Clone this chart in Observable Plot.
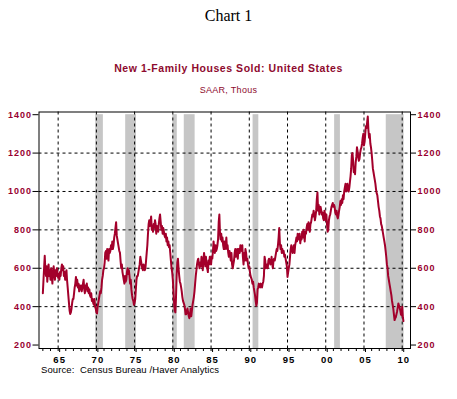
<!DOCTYPE html>
<html><head><meta charset="utf-8">
<script src="https://cdn.jsdelivr.net/npm/d3@7"></script>
<script src="https://cdn.jsdelivr.net/npm/@observablehq/plot@0.6"></script>
<style>
body{margin:0;background:#fff;}
#wrap{position:relative;width:457px;height:399px;overflow:hidden;background:#fff;}
.t{position:absolute;left:0;width:457px;text-align:center;white-space:nowrap;}
#plot{position:absolute;left:0;top:0;}
#plot svg text{letter-spacing:1px;}
</style></head><body><div id="wrap">
<div id="plot"></div>
<div class="t" style="top:7px;font-family:'Liberation Serif',serif;font-size:16px;color:#000">Chart 1</div>
<div class="t" style="top:62px;font-family:'Liberation Sans',Arial,sans-serif;font-weight:bold;font-size:10.5px;letter-spacing:0.55px;color:#8e0a2e">New 1-Family Houses Sold: United States</div>
<div class="t" style="top:85px;font-family:'Liberation Sans',Arial,sans-serif;font-size:9px;letter-spacing:0.3px;color:#8e0a2e">SAAR, Thous</div>
<div style="position:absolute;left:41px;top:364px;white-space:nowrap;font-family:'Liberation Sans',Arial,sans-serif;font-size:9.5px;letter-spacing:0.1px;color:#000">Source:&nbsp; Census Bureau /Haver Analytics</div>
</div>
<script>
const startYear = 1963;
const sales = [
  470, 540, 600, 665, 590, 560, 610, 530, 580, 620, 560, 590,
  540, 600, 560, 520, 580, 610, 570, 540, 590, 560, 600, 580,
  550, 570, 540, 580, 560, 600, 620, 590, 610, 560, 580, 540,
  570, 590, 540, 500, 460, 420, 380, 362, 370, 390, 420, 440,
  440, 470, 500, 520, 555, 510, 540, 500, 520, 480, 510, 490,
  510, 480, 500, 520, 540, 490, 470, 510, 490, 520, 480, 500,
  470, 490, 460, 450, 470, 430, 440, 420, 410, 440, 400, 390,
  370, 365, 400, 420, 440, 460, 480, 470, 500, 540, 560, 590,
  600, 630, 680, 690, 650, 700, 670, 640, 700, 680, 690, 720,
  700, 740, 700, 720, 760, 780, 810, 840, 770, 750, 730, 710,
  690, 680, 640, 600, 620, 580, 560, 540, 520, 560, 530, 540,
  580, 600, 570, 590, 560, 520, 540, 490, 460, 440, 430, 410,
  420, 440, 490, 540, 560, 560, 580, 600, 620, 660, 640, 620,
  600, 590, 620, 610, 590, 600, 640, 680, 720, 780, 830, 850,
  820, 840, 870, 800, 820, 790, 830, 810, 850, 830, 780, 820,
  800, 790, 830, 860, 880, 840, 800, 820, 780, 810, 790, 770,
  760, 780, 740, 760, 720, 740, 710, 720, 680, 640, 600, 580,
  540, 480, 420, 380, 370, 450, 560, 630, 650, 600, 560, 530,
  520, 500, 480, 450, 430, 420, 410, 390, 360, 360, 380, 390,
  370, 350, 340, 360, 390, 350, 380, 410, 430, 450, 480, 520,
  560, 590, 620, 640, 650, 620, 600, 630, 610, 660, 640, 590,
  640, 680, 650, 610, 660, 620, 600, 580, 640, 620, 660, 640,
  620, 660, 650, 690, 740, 700, 680, 720, 690, 700, 720, 750,
  840, 880, 790, 750, 780, 740, 760, 720, 700, 740, 700, 720,
  760, 700, 720, 680, 660, 690, 670, 640, 680, 620, 600, 620,
  640, 680, 700, 660, 680, 700, 650, 700, 690, 680, 720, 700,
  690, 720, 660, 620, 680, 640, 700, 680, 640, 650, 620, 600,
  610, 580, 560, 550, 540, 520, 530, 500, 480, 460, 430, 405,
  420, 490, 500, 520, 510, 500, 520, 510, 500, 520, 530, 560,
  660, 640, 600, 610, 620, 600, 640, 650, 640, 620, 630, 660,
  620, 600, 640, 650, 640, 660, 680, 700, 690, 720, 760, 810,
  730, 700, 720, 680, 700, 680, 690, 660, 670, 650, 630, 610,
  555, 580, 600, 620, 660, 700, 720, 700, 680, 700, 720, 680,
  720, 740, 760, 740, 780, 750, 760, 780, 730, 760, 750, 790,
  760, 800, 780, 740, 790, 780, 810, 830, 800, 840, 820, 790,
  830, 840, 860, 880, 870, 900, 880, 850, 870, 900, 960, 995,
  900, 930, 880, 910, 920, 900, 880, 890, 860, 850, 900, 880,
  850, 880, 830, 790, 800, 850, 870, 880, 900, 920, 930, 940,
  920, 930, 920, 890, 880, 900, 870, 860, 880, 900, 920, 950,
  930, 960, 940, 980, 960, 1000, 1020, 1040, 1000, 1010, 1040, 1020,
  1000, 1020, 1050, 1080, 1120, 1190, 1200, 1160, 1100, 1120, 1090, 1150,
  1180, 1230, 1210, 1180, 1160, 1170, 1200, 1220, 1230, 1250, 1280, 1300,
  1240, 1260, 1300, 1340, 1330, 1360, 1390, 1320, 1280, 1300, 1250, 1230,
  1200, 1160, 1120, 1100, 1080, 1060, 1040, 1010, 990, 980, 950, 920,
  900, 870, 860, 830, 820, 800, 780, 760, 740, 720, 690, 660,
  620, 600, 560, 540, 520, 500, 480, 460, 430, 410, 390, 360,
  330, 340, 345, 360, 375, 395, 417, 405, 395, 380, 360, 355,
  400, 345, 325
];
const recessionStart = ["1969-12", "1973-11", "1980-01", "1981-07", "1990-07", "2001-03", "2007-12"];
const recessionEnd   = ["1970-11", "1975-03", "1980-07", "1982-11", "1991-03", "2001-11", "2010-03"];
const yTicks = [200, 400, 600, 800, 1000, 1200, 1400];
const yGrid = [400, 600, 800, 1000, 1200];
const xTickYears = [1965, 1970, 1975, 1980, 1985, 1990, 1995, 2000, 2005, 2010];
const xTickLabels = ["65", "70", "75", "80", "85", "90", "95", "00", "05", "10"];

const ym = s => { const [y, m] = s.split("-").map(Number); return new Date(Date.UTC(y, m - 1, 1)); };
const ymEnd = s => { const [y, m] = s.split("-").map(Number); return new Date(Date.UTC(y, m, 1)); };
const data = sales.map((v, i) => ({date: new Date(Date.UTC(startYear, i, 1)), value: v}));
const rec = recessionStart.map((s, i) => ({start: ym(s), end: ymEnd(recessionEnd[i])}));
const majorDates = xTickYears.map(y => new Date(Date.UTC(y, 0, 1)));
const labelOf = new Map(xTickYears.map((y, i) => [y, xTickLabels[i]]));
const minorDates = d3.range(1963, 2011).map(y => new Date(Date.UTC(y, 0, 1)));
const yMin = 182, yMax = 1414;

const red = "#99002f";
const chart = Plot.plot({
  width: 457, height: 399,
  marginLeft: 38.5, marginRight: 47, marginTop: 111.5, marginBottom: 51,
  style: {fontFamily: "'Liberation Sans', Arial, sans-serif", fontSize: "9px", fontWeight: "bold", background: "transparent"},
  x: {type: "utc", domain: [new Date(Date.UTC(1962, 6, 1)), new Date(Date.UTC(2011, 1, 1))]},
  y: {domain: [yMin, yMax]},
  marks: [
    Plot.rect(rec, {x1: "start", x2: "end", y1: yMin, y2: d3.max(yTicks), fill: "#c6c6c6"}),
    Plot.ruleY(yGrid, {stroke: "#000", strokeWidth: 1, strokeDasharray: "3,3"}),
    Plot.ruleX(majorDates, {stroke: "#000", strokeWidth: 1, strokeDasharray: "3,3"}),
    Plot.line(data, {x: "date", y: "value", stroke: "#a3002b", strokeWidth: 2}),
    Plot.frame({stroke: "#000", strokeWidth: 1}),
    Plot.axisY({anchor: "left", ticks: yTicks, tickSize: 6, tickPadding: 1, fill: red, stroke: "#000", label: null, tickFormat: d => String(d)}),
    Plot.axisY({anchor: "right", ticks: yTicks, tickSize: 5, tickPadding: 2, fill: red, stroke: "#000", label: null, tickFormat: d => String(d)}),
    Plot.axisX({ticks: minorDates, tickSize: 3, stroke: "#000", label: null, tickFormat: () => ""}),
    Plot.axisX({ticks: majorDates, tickSize: 4, tickPadding: 4, fill: "#000", stroke: "#000", label: null, fontSize: 9.5, dx: 1.5, tickFormat: d => labelOf.get(d.getUTCFullYear())})
  ]
});
document.getElementById("plot").appendChild(chart);
</script>
</body></html>
